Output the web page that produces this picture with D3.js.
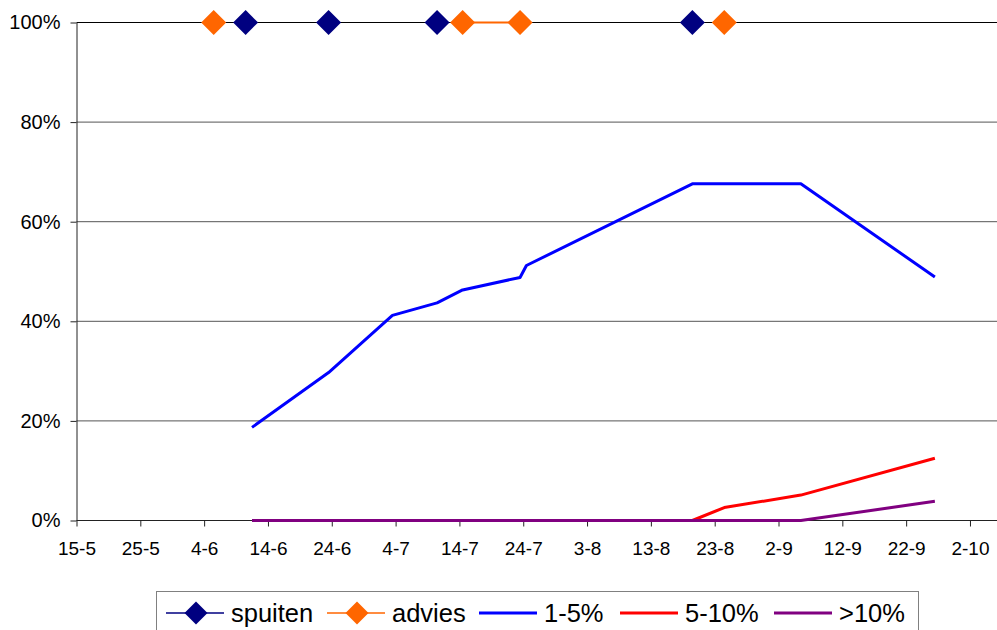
<!DOCTYPE html>
<meta charset="utf-8">
<style>
  body { margin: 0; background: #fff; }
  text { font-family: "Liberation Sans", Arial, sans-serif; fill: #000; }
</style>
<body>
<svg width="997" height="630"></svg>
<script src="https://d3js.org/d3.v7.min.js"></script>
<script>

var svg = d3.select("svg"),
    width = +svg.attr("width"),
    height = +svg.attr("height");

// observation dates (day-month), one row per date
var dates = ["5-6", "10-6", "11-6", "23-6", "3-7", "10-7", "14-7", "23-7", "24-7", "19-8", "24-8", "5-9", "26-9"];

// series values in %, null = no value on that date
var spuiten = [null, 100, null, 100, null, 100, null, null, null, 100, null, null, null];
var advies  = [100, null, null, null, null, null, 100, 100, null, null, 100, null, null];
var pct1_5  = [null, null, 18.7, 29.7, 41.2, 43.7, 46.3, 48.8, 51.2, 67.6, 67.6, 67.6, 48.9];
var pct5_10 = [null, null, 0, 0, 0, 0, 0, 0, 0, 0, 2.6, 5.1, 12.5];
var pct10   = [null, null, 0, 0, 0, 0, 0, 0, 0, 0, 0, 0, 3.85];

var tickLabels = ["15-5", "25-5", "4-6", "14-6", "24-6", "4-7", "14-7", "24-7", "3-8", "13-8", "23-8", "2-9", "12-9", "22-9", "2-10"];
var yTicks = [0, 20, 40, 60, 80, 100];

var parse = d3.timeParse("%d-%m");
// points sit in the middle of their day
var day = s => d3.timeHour.offset(parse(s), 12);

var x = d3.scaleTime()
    .domain([parse("15-5"), parse("6-10")])
    .range([76.5, 995.5]);

var y = d3.scaleLinear()
    .domain([0, 100])
    .range([520.5, 22.5]);

// gridlines
svg.append("g")
  .selectAll("line")
  .data(yTicks.filter(d => d > 0))
  .enter().append("line")
    .attr("x1", x.range()[0]).attr("x2", width)
    .attr("y1", d => y(d)).attr("y2", d => y(d))
    .attr("stroke", d => d == 100 ? "#000" : "#555")
    .attr("stroke-width", 1);

// axes
var xAxis = svg.append("g")
    .attr("transform", "translate(0," + y(0) + ")")
    .call(d3.axisBottom(x)
      .tickValues(tickLabels.map(parse))
      .tickFormat(d3.timeFormat("%-d-%-m"))
      .tickSize(6).tickSizeOuter(0).tickPadding(15));
xAxis.select(".domain").attr("d", "M" + x.range()[0] + ",0H" + width);
xAxis.selectAll(".tick text").attr("font-size", 19);

var yAxis = svg.append("g")
    .attr("transform", "translate(" + x.range()[0] + ",0)")
    .call(d3.axisLeft(y)
      .tickValues(yTicks)
      .tickFormat(d => d + "%")
      .tickSize(6).tickSizeOuter(0).tickPadding(10));
yAxis.selectAll(".tick text").attr("font-size", 20);

svg.selectAll(".tick text").attr("font-family", "Liberation Sans, Arial, sans-serif");
svg.selectAll(".domain, .tick line").attr("stroke", "#222");

var series = [
  { name: "spuiten", values: spuiten, color: "#000080", width: 1, marker: true },
  { name: "advies",  values: advies,  color: "#FF6600", width: 2, marker: true },
  { name: "1-5%",    values: pct1_5,  color: "#0000FF", width: 3, marker: false },
  { name: "5-10%",   values: pct5_10, color: "#FF0000", width: 3, marker: false },
  { name: ">10%",    values: pct10,   color: "#800080", width: 3, marker: false }
];

var line = d3.line()
    .defined(d => d.v != null)
    .x(d => x(d.date))
    .y(d => y(d.v));

var diamond = "M0,-12.5L12.5,0L0,12.5L-12.5,0Z";

// percentage lines first, then the marker series on top
series.slice(2).concat(series.slice(0, 2)).forEach(function(s) {
  var pts = dates.map((d, i) => ({ date: day(d), v: s.values[i] }));
  svg.append("path")
      .datum(pts)
      .attr("fill", "none")
      .attr("stroke", s.color)
      .attr("stroke-width", s.width)
      .attr("stroke-linejoin", "round")
      .attr("d", line);
  if (s.marker) {
    svg.append("g")
      .selectAll("path")
      .data(pts.filter(p => p.v != null))
      .enter().append("path")
        .attr("d", diamond)
        .attr("transform", p => "translate(" + x(p.date) + "," + y(p.v) + ")")
        .attr("fill", s.color);
  }
});

// legend
var legend = svg.append("g");
legend.append("rect")
    .attr("x", 156.5).attr("y", 591.5)
    .attr("width", 762).attr("height", 60)
    .attr("fill", "#fff").attr("stroke", "#808080");

var legendX = [166, 327, 479, 620, 774];
var item = legend.selectAll("g.item")
  .data(series)
  .enter().append("g")
    .attr("class", "item")
    .attr("transform", (d, i) => "translate(" + legendX[i] + ",613)");

item.append("line")
    .attr("x1", 0).attr("x2", 58)
    .attr("stroke", d => d.color)
    .attr("stroke-width", d => d.marker ? 1.5 : 3);

item.filter(d => d.marker).append("path")
    .attr("d", "M0,-11.5L11.5,0L0,11.5L-11.5,0Z")
    .attr("transform", "translate(30,0)")
    .attr("fill", d => d.color);

item.append("text")
    .attr("x", 65)
    .attr("dy", "0.36em")
    .attr("font-size", 25.5)
    .text(d => d.name);

</script>
</body>
